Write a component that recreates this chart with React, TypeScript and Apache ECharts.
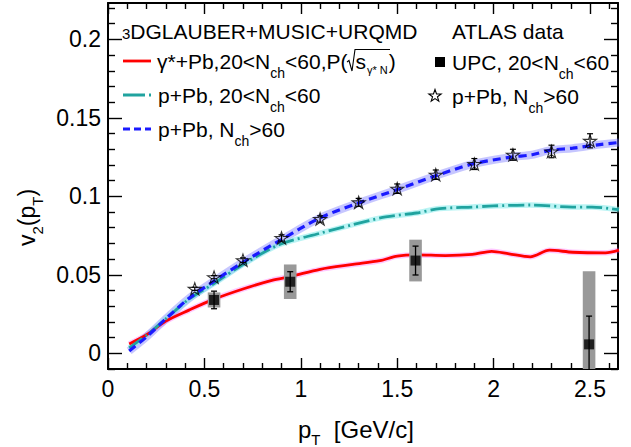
import React, { useEffect, useRef } from "react";
import * as echarts from "echarts";

// ---------- data ----------
const redPt = [0.11, 0.2, 0.3, 0.42, 0.55, 0.7, 0.85, 0.95, 1.1, 1.27, 1.41, 1.5, 1.6, 1.75, 1.89, 1.99, 2.08, 2.19, 2.29, 2.41, 2.58, 2.65];
const redV2 = [0.006, 0.0118, 0.0205, 0.0275, 0.0345, 0.041, 0.0465, 0.049, 0.0535, 0.0566, 0.059, 0.0619, 0.0627, 0.0623, 0.063, 0.065, 0.0634, 0.0615, 0.0657, 0.0644, 0.064, 0.0657];

const tealPt = [0.11, 0.2, 0.3, 0.42, 0.55, 0.7, 0.89, 1.1, 1.27, 1.44, 1.6, 1.72, 1.89, 2.0, 2.19, 2.41, 2.51, 2.65];
const tealV2 = [0.0035, 0.0115, 0.022, 0.0345, 0.0445, 0.0566, 0.0693, 0.0765, 0.082, 0.0869, 0.0894, 0.0922, 0.0932, 0.0939, 0.0945, 0.0932, 0.0932, 0.0915];

const bluePt = [0.11, 0.2, 0.3, 0.42, 0.55, 0.7, 0.9, 1.1, 1.3, 1.5, 1.69, 1.89, 2.09, 2.2, 2.29, 2.41, 2.55, 2.65];
const blueV2 = [0.0015, 0.0105, 0.022, 0.035, 0.046, 0.058, 0.0725, 0.0863, 0.0958, 0.1043, 0.1127, 0.1206, 0.125, 0.1265, 0.1293, 0.1307, 0.133, 0.1343];

const upcPt = [0.55, 0.945, 1.595, 2.495];
const upcV2 = [0.034, 0.0456, 0.0591, 0.0057];
const upcStat = [0.0056, 0.0064, 0.0092, 0.018];
const upcSys = [0.0048, 0.011, 0.0133, 0.0466];

const starPt = [0.45, 0.55, 0.7, 0.9, 1.1, 1.3, 1.5, 1.7, 1.9, 2.1, 2.3, 2.5];
const starV2 = [0.0411, 0.0485, 0.0593, 0.0735, 0.0856, 0.0962, 0.1049, 0.1138, 0.1206, 0.1265, 0.1286, 0.1354];
const starErr = [0.001, 0.001, 0.0015, 0.002, 0.002, 0.0025, 0.003, 0.003, 0.0035, 0.0035, 0.004, 0.0045];

const xMajorTicks = [0, 0.5, 1, 1.5, 2, 2.5];
const yMajorTicks = [0, 0.05, 0.1, 0.15, 0.2];
const xMinorTicks: number[] = [];
for (let i = 1; i <= 26; i++) if (i % 5 !== 0) xMinorTicks.push(+(i / 10).toFixed(2));
const yMinorTicks: number[] = [];
for (let i = -1; i <= 22; i++) if (i % 5 !== 0) yMinorTicks.push(+(i / 100).toFixed(3));

const X_MIN = 0, X_MAX = 2.645, Y_MIN = -0.01, Y_MAX = 0.2232;

const FONT = "'Liberation Sans', Arial, Helvetica, sans-serif";

const pairs = (xs: number[], ys: number[]) => xs.map((x, i) => [x, ys[i]]);

function makeAxis(kind: "x" | "y", position: string, ticks: number[], len: number, showLine: boolean, labels: number[] | null) {
  const isX = kind === "x";
  return {
    type: "value",
    position,
    min: isX ? X_MIN : Y_MIN,
    max: isX ? X_MAX : Y_MAX,
    splitLine: { show: false },
    axisLine: { show: showLine, onZero: false, lineStyle: { color: "#000", width: 2 } },
    axisTick: { show: true, inside: true, length: len, customValues: ticks, lineStyle: { color: "#000", width: 1.4 } },
    axisLabel: labels
      ? { show: true, customValues: labels, fontSize: 23, fontFamily: FONT, color: "#000", margin: isX ? 8 : 7 }
      : { show: false },
  };
}

const starPath = "path://M50,0 L61.8,35.4 L99,35.4 L69.1,57.3 L80.9,92.7 L50,70.8 L19.1,92.7 L30.9,57.3 L1,35.4 L38.2,35.4 Z";

function starPoly(cx: number, cy: number, r: number) {
  const pts: number[][] = [];
  for (let i = 0; i < 10; i++) {
    const a = -Math.PI / 2 + (i * Math.PI) / 5;
    const rr = i % 2 === 0 ? r : r * 0.4;
    pts.push([cx + rr * Math.cos(a), cy + rr * Math.sin(a)]);
  }
  return pts;
}

const M = { fontSize: 21, fontFamily: FONT, fill: "#000" };
const SUB = { fontSize: 14, fontFamily: FONT, fill: "#000", padding: [24, 0, 0, 0] };

export default function App() {
  const ref = useRef<HTMLDivElement>(null);
  useEffect(() => {
    const chart = echarts.init(ref.current!, null, { renderer: "svg" });

    const clampFn = (cs: any) => (v: number) => Math.max(cs.y, Math.min(cs.y + cs.height, v));

    const option: any = {
      animation: false,
      backgroundColor: "#fff",
      grid: { left: 108, right: 13, top: 3, bottom: 78, containLabel: false },
      xAxis: [
        makeAxis("x", "bottom", xMajorTicks, 11, true, xMajorTicks),
        makeAxis("x", "bottom", xMinorTicks, 6, false, null),
        makeAxis("x", "top", xMajorTicks, 11, true, null),
        makeAxis("x", "top", xMinorTicks, 6, false, null),
      ],
      yAxis: [
        makeAxis("y", "left", yMajorTicks, 14, true, yMajorTicks),
        makeAxis("y", "left", yMinorTicks, 7, false, null),
        makeAxis("y", "right", yMajorTicks, 14, true, null),
        makeAxis("y", "right", yMinorTicks, 7, false, null),
      ],
      series: [
        // uncertainty bands
        { type: "line", data: pairs(bluePt, blueV2), symbol: "none", smooth: 0.3, lineStyle: { color: "rgba(120,120,255,0.42)", width: 8 }, z: 1 },
        { type: "line", data: pairs(tealPt, tealV2), symbol: "none", smooth: 0.3, lineStyle: { color: "rgba(130,235,235,0.55)", width: 5.5 }, z: 1 },
        { type: "line", data: pairs(redPt, redV2), symbol: "none", smooth: 0.3, lineStyle: { color: "rgba(255,80,255,0.32)", width: 5.5 }, z: 1 },
        // central lines
        { type: "line", name: "gamma", data: pairs(redPt, redV2), symbol: "none", smooth: 0.3, lineStyle: { color: "#ff0000", width: 2.8 }, z: 2 },
        { type: "line", name: "pPb20", data: pairs(tealPt, tealV2), symbol: "none", smooth: 0.3, lineStyle: { color: "#20a39f", width: 2.8, type: [16, 4, 2, 4] }, z: 2 },
        { type: "line", name: "pPb60", data: pairs(bluePt, blueV2), symbol: "none", smooth: 0.3, lineStyle: { color: "#1a1aff", width: 3.2, type: [8, 5] }, z: 3 },
        // UPC sys boxes + stat errors
        {
          type: "custom",
          z: 4,
          data: upcPt.map((x, i) => [x, upcV2[i], upcStat[i], upcSys[i]]),
          encode: { x: 0, y: 1 },
          renderItem: (params: any, api: any) => {
            const cs = params.coordSys;
            const clamp = clampFn(cs);
            const x = api.value(0), y = api.value(1), st = api.value(2), sy = api.value(3);
            const c = api.coord([x, y]);
            const sTop = clamp(api.coord([x, y + sy])[1]);
            const sBot = clamp(api.coord([x, y - sy])[1]);
            const eTopRaw = api.coord([x, y + st])[1];
            const eBotRaw = api.coord([x, y - st])[1];
            const eTop = clamp(eTopRaw), eBot = clamp(eBotRaw);
            const hw = 6.3;
            const children: any[] = [
              { type: "rect", shape: { x: c[0] - hw, y: sTop, width: 2 * hw, height: sBot - sTop }, style: { fill: "#999999" } },
              { type: "line", shape: { x1: c[0], y1: eTop, x2: c[0], y2: eBot }, style: { stroke: "#000", lineWidth: 1.3 } },
            ];
            if (eTop === eTopRaw) children.push({ type: "line", shape: { x1: c[0] - 3, y1: eTop, x2: c[0] + 3, y2: eTop }, style: { stroke: "#000", lineWidth: 1.3 } });
            if (eBot === eBotRaw) children.push({ type: "line", shape: { x1: c[0] - 3, y1: eBot, x2: c[0] + 3, y2: eBot }, style: { stroke: "#000", lineWidth: 1.3 } });
            return { type: "group", children };
          },
        },
        {
          type: "scatter",
          z: 5,
          data: pairs(upcPt, upcV2),
          symbol: "rect",
          symbolSize: 10,
          itemStyle: { color: "#000" },
        },
        // star stat errors
        {
          type: "custom",
          z: 4,
          data: starPt.map((x, i) => [x, starV2[i], starErr[i]]),
          encode: { x: 0, y: 1 },
          renderItem: (params: any, api: any) => {
            const x = api.value(0), y = api.value(1), e = api.value(2);
            const c = api.coord([x, y]);
            const t = api.coord([x, y + e])[1];
            const b = api.coord([x, y - e])[1];
            const s = { stroke: "#000", lineWidth: 1.2 };
            return {
              type: "group",
              children: [
                { type: "line", shape: { x1: c[0], y1: t, x2: c[0], y2: b }, style: s },
                { type: "line", shape: { x1: c[0] - 3, y1: t, x2: c[0] + 3, y2: t }, style: s },
                { type: "line", shape: { x1: c[0] - 3, y1: b, x2: c[0] + 3, y2: b }, style: s },
              ],
            };
          },
        },
        {
          type: "scatter",
          z: 5,
          data: pairs(starPt, starV2),
          symbol: starPath,
          symbolSize: 13,
          symbolKeepAspect: true,
          itemStyle: { color: "rgba(255,255,255,0)", borderColor: "#000", borderWidth: 1.1 },
        },
      ],
      graphic: {
        elements: [
          // axis titles
          {
            type: "text", x: 298, y: 429,
            style: {
              text: "{m|p}{s|T}{m|  [GeV/c]}", align: "left", verticalAlign: "middle",
              rich: { m: { fontSize: 24, fontFamily: FONT, fill: "#000" }, s: { fontSize: 15, fontFamily: FONT, fill: "#000", padding: [20, 0, 0, 0] } },
            },
          },
          {
            type: "text", x: 27, y: 246, rotation: Math.PI / 2,
            style: {
              text: "{m|v}{s|2}{m|(p}{s|T}{m|)}", align: "left", verticalAlign: "middle",
              rich: { m: { fontSize: 23, fontFamily: FONT, fill: "#000" }, s: { fontSize: 15, fontFamily: FONT, fill: "#000", padding: [20, 0, 0, 0] } },
            },
          },
          // legend left
          {
            type: "text", x: 122, y: 31,
            style: {
              text: "{t|3}{m|DGLAUBER+MUSIC+URQMD}", align: "left", verticalAlign: "middle",
              rich: { m: M, t: { fontSize: 15, fontFamily: FONT, fill: "#000", padding: [5, 0, 0, 0] } },
            },
          },
          { type: "line", shape: { x1: 123, y1: 61, x2: 151, y2: 61 }, style: { stroke: "#ff0000", lineWidth: 2.8 } },
          {
            type: "text", x: 157, y: 61,
            style: {
              text: "{m|γ*+Pb,20<N}{s|ch}{m|<60,P(}{r| }{m|s}{g|γ* N}{m|)}", align: "left", verticalAlign: "middle",
              rich: {
                m: M,
                s: SUB,
                r: { fontSize: 21, fontFamily: FONT, width: 8 },
                g: { fontSize: 11, fontFamily: FONT, fill: "#000", padding: [18, 1, 0, 1] },
              },
            },
          },
          {
            type: "polyline",
            shape: { points: [[347, 62], [349, 60.5], [352, 71], [355, 49.5], [390, 49.5]] },
            style: { stroke: "#000", lineWidth: 1.1, fill: "none" },
          },
          { type: "line", shape: { x1: 123, y1: 95, x2: 152, y2: 95 }, style: { stroke: "#20a39f", lineWidth: 2.8, lineDash: [22, 4, 2, 10] } },
          {
            type: "text", x: 158, y: 95,
            style: { text: "{m|p+Pb, 20<N}{s|ch}{m|<60}", align: "left", verticalAlign: "middle", rich: { m: M, s: SUB } },
          },
          { type: "line", shape: { x1: 123, y1: 129, x2: 151, y2: 129 }, style: { stroke: "#1a1aff", lineWidth: 3.2, lineDash: [7, 4] } },
          {
            type: "text", x: 158, y: 129,
            style: { text: "{m|p+Pb, N}{s|ch}{m|>60}", align: "left", verticalAlign: "middle", rich: { m: M, s: SUB } },
          },
          // legend right
          {
            type: "text", x: 452, y: 31,
            style: { text: "{m|ATLAS data}", align: "left", verticalAlign: "middle", rich: { m: M } },
          },
          { type: "rect", shape: { x: 435, y: 57, width: 10, height: 10 }, style: { fill: "#000" } },
          {
            type: "text", x: 452, y: 62,
            style: { text: "{m|UPC, 20<N}{s|ch}{m|<60}", align: "left", verticalAlign: "middle", rich: { m: M, s: SUB } },
          },
          { type: "polygon", shape: { points: starPoly(435, 96, 6.5) }, style: { fill: "none", stroke: "#000", lineWidth: 1.1 } },
          {
            type: "text", x: 452, y: 96,
            style: { text: "{m|p+Pb, N}{s|ch}{m|>60}", align: "left", verticalAlign: "middle", rich: { m: M, s: SUB } },
          },
        ],
      },
    };

    chart.setOption(option);
    return () => chart.dispose();
  }, []);
  return <div ref={ref} style={{ position: "fixed", left: 0, top: 0, width: 631, height: 447, background: "#fff" }} />;
}
